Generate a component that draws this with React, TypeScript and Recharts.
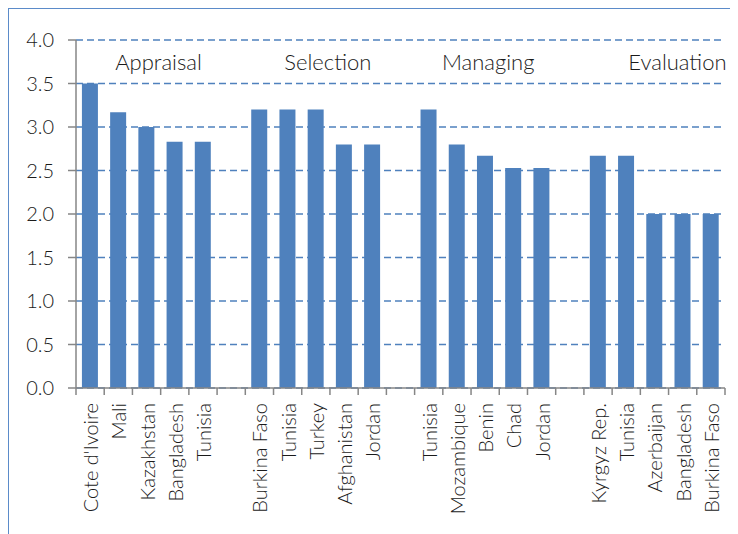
import { Bar, BarChart, CartesianGrid, ReferenceArea, XAxis, YAxis } from "recharts"

const groups = ["Appraisal", "Selection", "Managing", "Evaluation"]

const appraisalCountries = ["Cote d'Ivoire", "Mali", "Kazakhstan", "Bangladesh", "Tunisia"]
const appraisalValues = [3.5, 3.17, 3.0, 2.83, 2.83]

const selectionCountries = ["Burkina Faso", "Tunisia", "Turkey", "Afghanistan", "Jordan"]
const selectionValues = [3.2, 3.2, 3.2, 2.8, 2.8]

const managingCountries = ["Tunisia", "Mozambique", "Benin", "Chad", "Jordan"]
const managingValues = [3.2, 2.8, 2.67, 2.53, 2.53]

const evaluationCountries = ["Kyrgyz Rep.", "Tunisia", "Azerbaijan", "Bangladesh", "Burkina Faso"]
const evaluationValues = [2.67, 2.67, 2.0, 2.0, 2.0]

const yTicks = [0, 0.5, 1, 1.5, 2, 2.5, 3, 3.5, 4]

// group label nudges, the original text boxes are not centred on their groups
const groupLabelShift = [12, 12, 3, 23]

const countryLists = [appraisalCountries, selectionCountries, managingCountries, evaluationCountries]
const valueLists = [appraisalValues, selectionValues, managingValues, evaluationValues]

type Row = { id: string; label: string; value: number | null; group: number }

const data: Row[] = []
countryLists.forEach((countries, g) => {
  if (g > 0) data.push({ id: `gap${g}`, label: "", value: null, group: -1 })
  countries.forEach((c, i) => {
    data.push({ id: `${g}-${i}`, label: c, value: valueLists[g][i], group: g })
  })
})

const FONT = "Lato, 'Open Sans', sans-serif"
const TEXT = "#1a1a1a"
const AXIS = "#868686"
const BLUE = "#4f81bd"

const TICK_SIZE = 7
const TICK_MARGIN = 8

function CountryTick(props: any) {
  const { x, y, payload, index, width, visibleTicksCount } = props
  const row = data[index] ?? data.find((d) => d.id === payload.value)
  const band = width / (visibleTicksCount || data.length)
  const axisY = y - TICK_SIZE - TICK_MARGIN
  const left = x - band / 2
  return (
    <g>
      <line x1={left} x2={left} y1={axisY} y2={axisY + TICK_SIZE} stroke={AXIS} strokeWidth={1.5} />
      {index === data.length - 1 && (
        <line x1={x + band / 2} x2={x + band / 2} y1={axisY} y2={axisY + TICK_SIZE} stroke={AXIS} strokeWidth={1.5} />
      )}
      <text
        x={x}
        y={y}
        transform={`rotate(-90, ${x}, ${y})`}
        textAnchor="end"
        dominantBaseline="central"
        fill={TEXT}
        fontFamily={FONT}
        fontWeight={300}
        fontSize={20}
      >
        {row ? row.label : ""}
      </text>
    </g>
  )
}

export default function App() {
  return (
    <div
      style={{
        width: 730,
        height: 526,
        borderTop: "1px solid #5b8bc9",
        borderLeft: "1px solid #5b8bc9",
        boxSizing: "border-box",
        background: "#fff",
      }}
    >
      <BarChart
        width={729}
        height={525}
        data={data}
        margin={{ top: 31, right: 13, left: 0, bottom: 0 }}
        barCategoryGap="21%"
      >
        <CartesianGrid vertical={false} stroke={BLUE} strokeDasharray="7 4" strokeWidth={1.3} />
        <XAxis
          dataKey="id"
          interval={0}
          height={146}
          tickLine={false}
          tickSize={TICK_SIZE}
          tickMargin={TICK_MARGIN}
          axisLine={{ stroke: AXIS, strokeWidth: 1.5 }}
          tick={<CountryTick />}
        />
        <YAxis
          width={67}
          domain={[0, 4]}
          ticks={yTicks}
          interval={0}
          tickFormatter={(v: number) => v.toFixed(1)}
          tickSize={8}
          tickMargin={14}
          tickLine={{ stroke: AXIS, strokeWidth: 1.5 }}
          axisLine={{ stroke: AXIS, strokeWidth: 1.5 }}
          tick={{ fill: TEXT, fontFamily: FONT, fontWeight: 300, fontSize: 20 }}
        />
        {groups.map((g, i) => (
          <ReferenceArea
            key={g}
            x1={`${i}-0`}
            x2={`${i}-${countryLists[i].length - 1}`}
            y1={3.5}
            y2={4}
            fill="none"
            stroke="none"
            label={{
              value: g,
              position: "center",
              dx: groupLabelShift[i],
              fill: TEXT,
              fontFamily: FONT,
              fontWeight: 300,
              fontSize: 22,
            }}
          />
        ))}
        <Bar dataKey="value" fill={BLUE} isAnimationActive={false} />
      </BarChart>
    </div>
  )
}
